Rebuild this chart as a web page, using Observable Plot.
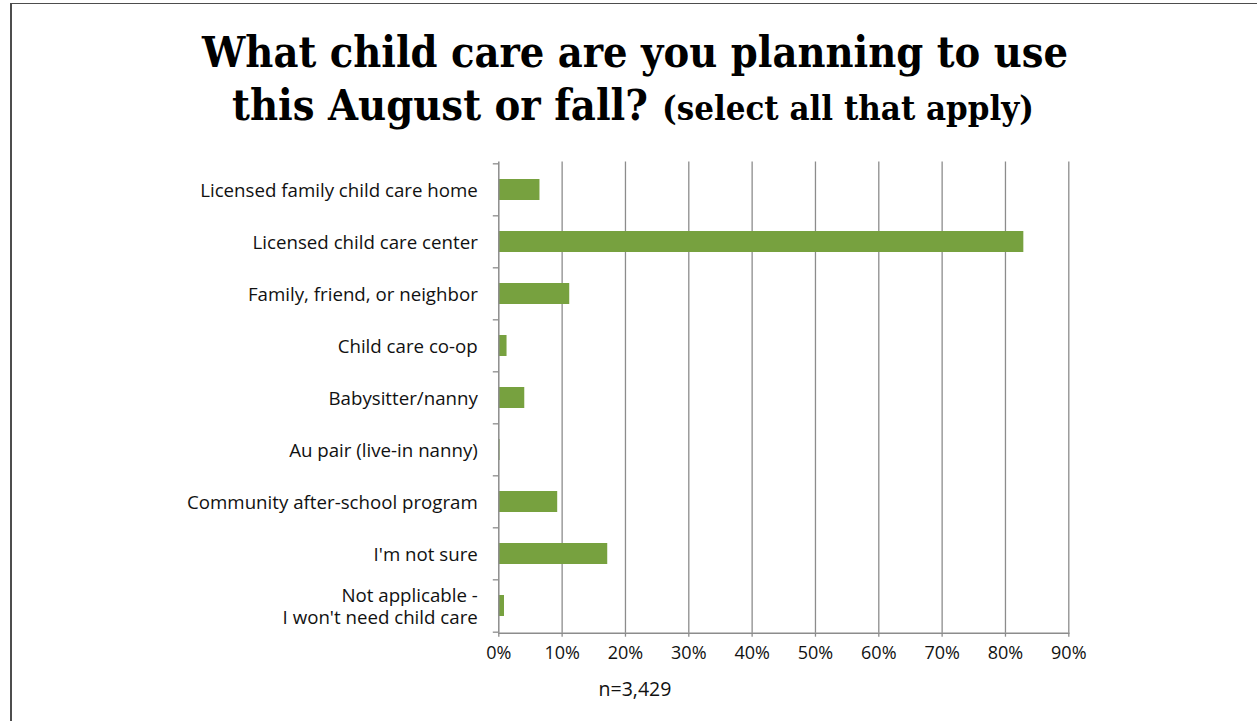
<!DOCTYPE html>
<html>
<head>
<meta charset="utf-8">
<script src="https://cdn.jsdelivr.net/npm/d3@7"></script>
<script src="https://cdn.jsdelivr.net/npm/@observablehq/plot@0.6"></script>
<style>
  html, body { margin: 0; padding: 0; background: #fff; width: 1257px; height: 721px; overflow: hidden; }
  #frame { position: absolute; left: 10px; top: 3px; width: 1400px; height: 900px;
           border-left: 2px solid #4d4d4d; border-top: 1.5px solid #4d4d4d; }
  #title { position: absolute; left: 0; top: 0; }
  #chart { position: absolute; left: 0; top: 140px; }
  #caption { position: absolute; left: 535px; top: 678.7px; width: 200px; text-align: center;
             font-family: "Open Sans", sans-serif; font-size: 19.5px; line-height: 19.5px; color: #111; }
</style>
</head>
<body>
<div id="frame"></div>
<svg id="title" width="1257" height="140" xmlns="http://www.w3.org/2000/svg">
  <g font-family="DejaVu Serif, serif" font-weight="bold" fill="#000">
    <text id="t1" x="202" y="67" font-size="42" textLength="866" lengthAdjust="spacingAndGlyphs"></text>
    <text id="t2" x="232" y="120" font-size="42" textLength="416" lengthAdjust="spacingAndGlyphs"></text>
    <text id="t3" x="662" y="120" font-size="34" textLength="372" lengthAdjust="spacingAndGlyphs"></text>
  </g>
</svg>
<div id="chart"></div>
<div id="caption"></div>
<script>
const titleLines = ["What child care are you planning to use", "this August or fall?", "(select all that apply)"];
const caption = "n=3,429";

const categories = [
  "Licensed family child care home",
  "Licensed child care center",
  "Family, friend, or neighbor",
  "Child care co-op",
  "Babysitter/nanny",
  "Au pair (live-in nanny)",
  "Community after-school program",
  "I'm not sure",
  "Not applicable -\nI won't need child care"
];
const values = [6.5, 82.9, 11.2, 1.3, 4.1, 0.2, 9.3, 17.2, 0.9];
const xTicks = [0, 10, 20, 30, 40, 50, 60, 70, 80, 90];

document.getElementById("t1").textContent = titleLines[0];
document.getElementById("t2").textContent = titleLines[1];
document.getElementById("t3").textContent = titleLines[2];
document.getElementById("caption").textContent = caption;

const data = categories.map((c, i) => ({category: c, value: values[i]}));

const W = 1257, H = 533, mT = 21.5, mB = 40.3, mL = 498.3, mR = 1257 - 1068.3;
const step = (H - mT - mB) / categories.length;
const gray = "#8c8c8c";

const chart = Plot.plot({
  width: W,
  height: H,
  marginTop: mT,
  marginBottom: mB,
  marginLeft: mL,
  marginRight: mR,
  style: {fontFamily: "'Open Sans', sans-serif", fontSize: "18px", color: "#111", background: "transparent"},
  x: {domain: [0, 90], ticks: xTicks, label: null},
  y: {domain: categories, paddingInner: 0.6, paddingOuter: 0.3, label: null},
  marks: [
    Plot.ruleX(xTicks.slice(1), {stroke: gray, strokeWidth: 1.3}),
    Plot.barX(data, {x: "value", y: "category", fill: "#77a13f"}),
    Plot.ruleX([0], {stroke: gray, strokeWidth: 1.5}),
    Plot.frame({anchor: "bottom", stroke: gray, strokeWidth: 1.5}),
    Plot.axisX({ticks: xTicks, tickFormat: d => d + "%", tickSize: 4, tickPadding: 8.8, label: null,
                stroke: gray, strokeWidth: 1.3, fill: "#111", fontSize: 18}),
    Plot.axisY({tickSize: 0, tickPadding: 21, lineHeight: 1.2, label: null, fill: "#111", fontSize: 18.7}),
    Plot.axisY({text: null, tickSize: 5.5, dy: -step / 2, label: null, stroke: gray, strokeWidth: 1.3}),
    Plot.axisY([categories[categories.length - 1]], {text: null, tickSize: 5.5, dy: step / 2, label: null, stroke: gray, strokeWidth: 1.3})
  ]
});
document.getElementById("chart").appendChild(chart);
</script>
</body>
</html>
